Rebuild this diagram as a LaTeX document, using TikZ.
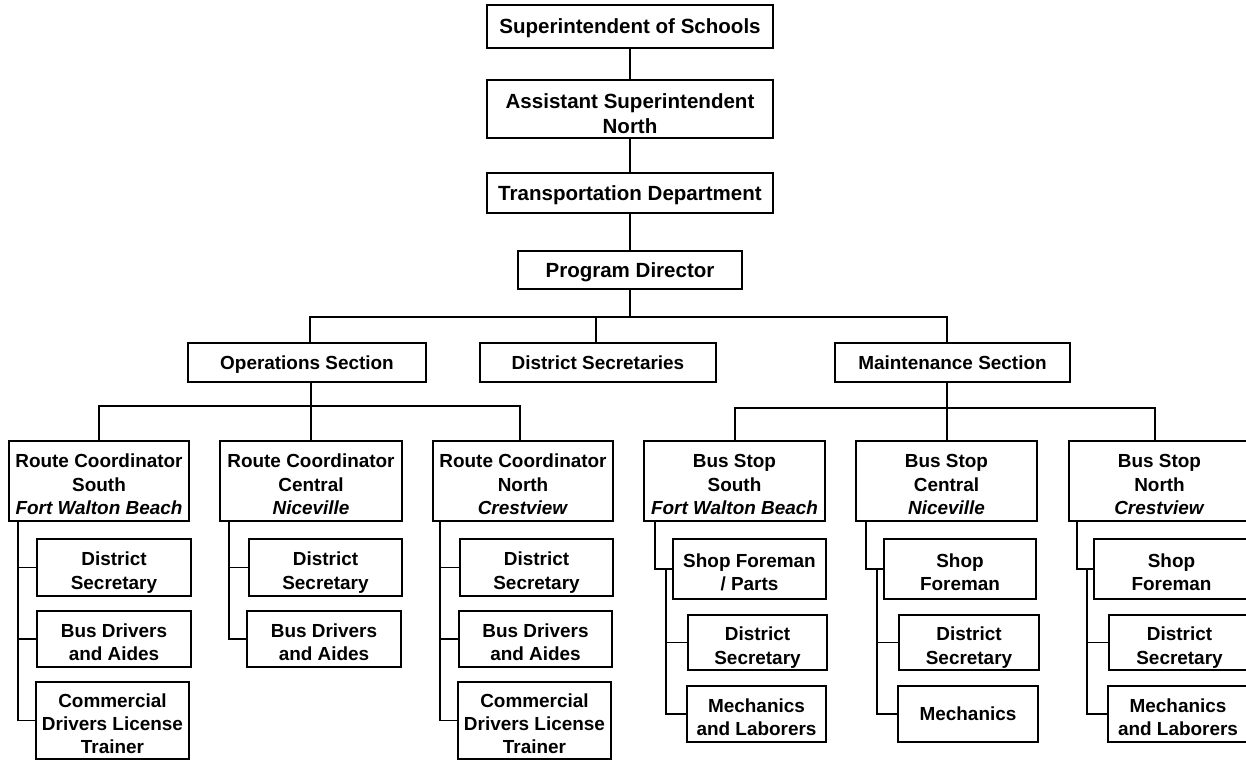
\documentclass[tikz,border=0pt]{standalone}
\usepackage{fontspec}
\setmainfont{Liberation Sans}
% taller first line so stacked texts sit centred in their boxes
\newcommand\liftl{\rule{0pt}{15pt}}
\newcommand\liftt{\rule{0pt}{17.3pt}}
\begin{document}
% one unit = one pixel of a 1246 x 760 sheet, y grows downwards
\begin{tikzpicture}[x=0.75pt,y=-0.75pt,
  orgbase/.style={draw, line width=1.4pt, align=center, inner sep=1pt, fill=white, text depth=0pt},
  topbox/.style={orgbase, font=\fontsize{15.4}{18.8}\selectfont\bfseries},
  lowbox/.style={orgbase, font=\fontsize{14.2}{17.3}\selectfont\bfseries},
  link/.style={line width=1.4pt, line cap=rect}]

% box given by its corners: style, name, x1, y1, x2, y2, text
\newcommand\orgbox[7]{%
  \pgfmathsetmacro\obW{(#5-#3)*0.75}%
  \pgfmathsetmacro\obH{(#6-#4)*0.75}%
  \node[#1, minimum width=\obW pt, minimum height=\obH pt] (#2)
    at ({(#3+#5)/2},{(#4+#6)/2}) {#7};}

\path[use as bounding box] (0,0) rectangle (1246,760);
\clip (0,0) rectangle (1246,760);
\fill[white] (0,0) rectangle (1246,760);

% --- upper chain ---
\orgbox{topbox}{sup}{487}{5}{773}{48}{Superintendent of Schools}
\orgbox{topbox}{asn}{487}{80}{773}{138}{\liftt Assistant Superintendent\\North}
\orgbox{topbox}{td}{487}{173}{773}{213}{Transportation Department}
\orgbox{topbox}{pd}{518}{251}{742}{289}{Program Director}

% --- sections ---
\orgbox{lowbox}{ops}{188}{343}{426}{382}{Operations Section}
\orgbox{lowbox}{dsec}{480}{343}{716}{382}{District Secretaries}
\orgbox{lowbox}{mnt}{835}{343}{1070}{382}{Maintenance Section}

% --- route coordinators and bus stops ---
\orgbox{lowbox}{rcs}{9}{441}{189}{521}{\liftl Route Coordinator\\South\\\textit{Fort Walton Beach}}
\orgbox{lowbox}{rcc}{220}{441}{402}{521}{\liftl Route Coordinator\\Central\\\textit{Niceville}}
\orgbox{lowbox}{rcn}{433}{441}{613}{521}{\liftl Route Coordinator\\North\\\textit{Crestview}}
\orgbox{lowbox}{bss}{644}{441}{825}{521}{\liftl Bus Stop\\South\\\textit{Fort Walton Beach}}
\orgbox{lowbox}{bsc}{856}{441}{1037}{521}{\liftl Bus Stop\\Central\\\textit{Niceville}}
\orgbox{lowbox}{bsn}{1069}{441}{1250}{521}{\liftl Bus Stop\\North\\\textit{Crestview}}

% --- staff under route coordinators ---
\orgbox{lowbox}{sdsec}{37}{539}{191}{596}{\liftl District\\Secretary}
\orgbox{lowbox}{sbus}{37}{611}{191}{667}{\liftl Bus Drivers\\and Aides}
\orgbox{lowbox}{scdl}{36}{682}{189}{759}{\liftl Commercial\\Drivers License\\Trainer}
\orgbox{lowbox}{cdsec}{249}{539}{402}{596}{\liftl District\\Secretary}
\orgbox{lowbox}{cbus}{247}{611}{401}{667}{\liftl Bus Drivers\\and Aides}
\orgbox{lowbox}{ndsec}{460}{539}{613}{596}{\liftl District\\Secretary}
\orgbox{lowbox}{nbus}{459}{611}{612}{667}{\liftl Bus Drivers\\and Aides}
\orgbox{lowbox}{ncdl}{458}{682}{611}{759}{\liftl Commercial\\Drivers License\\Trainer}

% --- staff under bus stops ---
\orgbox{lowbox}{bsshop}{673}{539}{826}{599}{\liftl Shop Foreman\\/ Parts}
\orgbox{lowbox}{bsdsec}{688}{615}{827}{670}{\liftl District\\Secretary}
\orgbox{lowbox}{bsmech}{687}{686}{826}{742}{\liftl Mechanics\\and Laborers}
\orgbox{lowbox}{bcshop}{884}{539}{1036}{599}{\liftl Shop\\Foreman}
\orgbox{lowbox}{bcdsec}{899}{615}{1039}{670}{\liftl District\\Secretary}
\orgbox{lowbox}{bcmech}{898}{686}{1038}{742}{Mechanics}
\orgbox{lowbox}{bnshop}{1094}{539}{1249}{599}{\liftl Shop\\Foreman}
\orgbox{lowbox}{bndsec}{1109}{615}{1250}{670}{\liftl District\\Secretary}
\orgbox{lowbox}{bnmech}{1108}{686}{1248}{742}{\liftl Mechanics\\and Laborers}

% --- connectors: upper chain ---
\draw[link] (sup) -- (asn);
\draw[link] (asn) -- (td);
\draw[link] (td) -- (pd);

% --- connectors: program director to sections ---
\coordinate (busL) at (310,317);
\coordinate (busR) at (947,317);
\coordinate (busD) at (596,317);
\draw[link] (pd.south) -- (pd.south |- busL);
\draw[link] (ops.north -| busL) -- (busL) -- (busR) -- (mnt.north -| busR);
\draw[link] (busD) -- (dsec.north -| busD);

% --- connectors: operations section ---
\coordinate (opM) at (311,406);
\coordinate (opL) at (99,406);
\coordinate (opR) at (520,406);
\draw[link] (ops.south -| opM) -- (rcc.north -| opM);
\draw[link] (rcs.north -| opL) -- (opL) -- (opR) -- (rcn.north -| opR);

% --- connectors: maintenance section ---
\coordinate (mnM) at (947,408);
\coordinate (mnL) at (735,408);
\coordinate (mnR) at (1155,408);
\draw[link] (mnt.south -| mnM) -- (bsc.north -| mnM);
\draw[link] (bss.north -| mnL) -- (mnL) -- (mnR) -- (bsn.north -| mnR);

% --- connectors: route coordinator staff ---
\coordinate (ts) at (18,0);
\draw[link] (rcs.south -| ts) |- (scdl.west);
\draw[link] (ts |- sdsec.west) -- (sdsec.west);
\draw[link] (ts |- sbus.west) -- (sbus.west);

\coordinate (tc) at (229,0);
\draw[link] (rcc.south -| tc) |- (cbus.west);
\draw[link] (tc |- cdsec.west) -- (cdsec.west);

\coordinate (tn) at (440,0);
\draw[link] (rcn.south -| tn) |- (ncdl.west);
\draw[link] (tn |- ndsec.west) -- (ndsec.west);
\draw[link] (tn |- nbus.west) -- (nbus.west);

% --- connectors: bus stop staff ---
\coordinate (us) at (655,0);
\coordinate (vs) at (666,0);
\draw[link] (bss.south -| us) |- (bsshop.west);
\draw[link] (vs |- bsshop.west) |- (bsmech.west);
\draw[link] (vs |- bsdsec.west) -- (bsdsec.west);

\coordinate (uc) at (866,0);
\coordinate (vc) at (877,0);
\draw[link] (bsc.south -| uc) |- (bcshop.west);
\draw[link] (vc |- bcshop.west) |- (bcmech.west);
\draw[link] (vc |- bcdsec.west) -- (bcdsec.west);

\coordinate (un) at (1077,0);
\coordinate (vn) at (1087,0);
\draw[link] (bsn.south -| un) |- (bnshop.west);
\draw[link] (vn |- bnshop.west) |- (bnmech.west);
\draw[link] (vn |- bndsec.west) -- (bndsec.west);
\end{tikzpicture}
\end{document}
